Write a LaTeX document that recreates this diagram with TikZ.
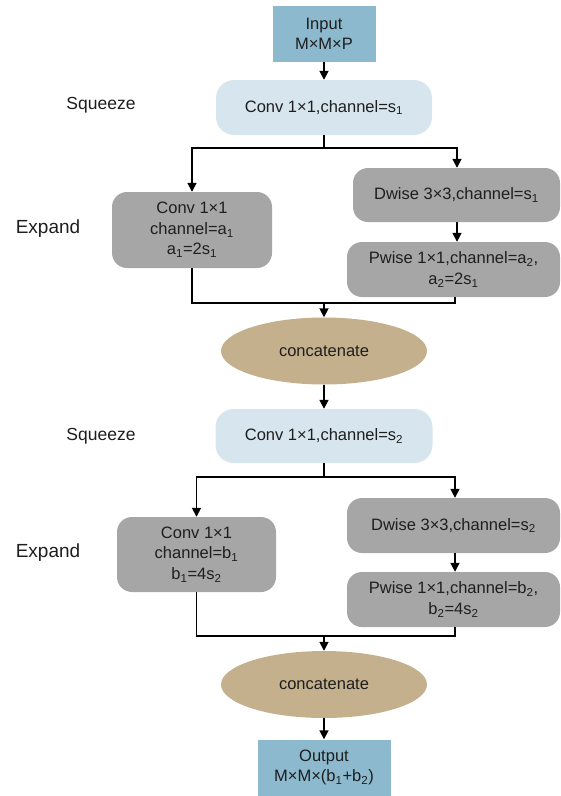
\documentclass[tikz,border=0pt]{standalone}
\usepackage{fontspec}
\setmainfont{Liberation Sans}
\usetikzlibrary{shapes.geometric,arrows.meta,calc}
\definecolor{inblue}{RGB}{140,185,205}
\definecolor{sqblue}{RGB}{215,230,238}
\definecolor{boxgray}{RGB}{166,166,166}
\definecolor{tan}{RGB}{196,176,140}
\definecolor{txt}{RGB}{30,30,30}
\newcommand{\sub}[1]{\textsubscript{#1}}
\begin{document}
\begin{tikzpicture}[x=1pt,y=-1pt,
  every node/.style={font=\fontsize{16.5}{20.5}\selectfont, text=txt, align=center, inner sep=0pt},
  iobox/.style={rectangle, fill=inblue, minimum width=#1, minimum height=56},
  sqbox/.style={rectangle, rounded corners=18, fill=sqblue, minimum width=#1, minimum height=55},
  gbox/.style={rectangle, rounded corners=15, fill=boxgray, minimum width=#1},
  catell/.style={ellipse, fill=tan, minimum width=206, minimum height=67},
  lab/.style={font=\fontsize{17.5}{20}\selectfont},
  biglab/.style={font=\fontsize{19}{22}\selectfont},
  conn/.style={line width=1.7pt, black},
  arr/.style={conn, -{Triangle[length=9pt,width=9pt]}}
]
\useasboundingbox (0,0) rectangle (561,796);

% labels
\node[lab] (lsq1) at (101,105) {Squeeze};
\node[biglab] (lex1) at (48,229) {Expand};
\node[lab] (lsq2) at (101,436) {Squeeze};
\node[biglab] (lex2) at (48,553) {Expand};

% nodes
\node[iobox=103] (in) at (324,34) {Input\\M×M×P};
\node[sqbox=216] (sq1) at (324,107.5) {Conv 1×1,channel=s\sub{1}};
\node[gbox=160, minimum height=76] (e1L) at (192,230) {Conv 1×1\\channel=a\sub{1}\\a\sub{1}=2s\sub{1}};
\node[gbox=207, minimum height=54] (e1D) at (456.5,195) {Dwise 3×3,channel=s\sub{1}};
\node[gbox=213, minimum height=55] (e1P) at (453.5,269.5) {Pwise 1×1,channel=a\sub{2},\\a\sub{2}=2s\sub{1}};
\node[catell] (cat1) at (324,351) {concatenate};
\node[sqbox=217, minimum height=54] (sq2) at (324,436) {Conv 1×1,channel=s\sub{2}};
\node[gbox=159, minimum height=75] (e2L) at (196.5,554.5) {Conv 1×1\\channel=b\sub{1}\\b\sub{1}=4s\sub{2}};
\node[gbox=213, minimum height=55] (e2D) at (453.5,525.5) {Dwise 3×3,channel=s\sub{2}};
\node[gbox=213, minimum height=55] (e2P) at (453.5,599.5) {Pwise 1×1,channel=b\sub{2},\\b\sub{2}=4s\sub{2}};
\node[catell] (cat2) at (324,684.5) {concatenate};
\node[iobox=133, minimum height=56] (out) at (324,767.5) {Output\\M×M×(b\sub{1}+b\sub{2})};

% junctions
\coordinate (j1) at (324,148);
\coordinate (m1) at (324,303);
\coordinate (j2) at (324,477);
\coordinate (m2) at (324,636);
\coordinate (r1) at (457,148);
\coordinate (r2) at (455,477);

% connectors block 1
\draw[arr] (in.south) -- (sq1.north);
\draw[conn] (sq1.south) -- (j1);
\draw[arr] (j1) -| (e1L.north);
\draw[arr] (j1) -- (r1) -- (r1 |- e1D.north);
\draw[arr] (r1 |- e1D.south) -- (r1 |- e1P.north);
\draw[conn] (e1L.south) |- (m1);
\draw[conn] ($(e1P.south)+(1.5,0)$) |- (m1);
\draw[arr] (m1) -- (cat1.north);
\draw[arr] (cat1.south) -- (sq2.north);

% connectors block 2
\draw[conn] (sq2.south) -- (j2);
\draw[arr] (j2) -| (e2L.north);
\draw[arr] (j2) -- (r2) -- (r2 |- e2D.north);
\draw[arr] (r2 |- e2D.south) -- (r2 |- e2P.north);
\draw[conn] (e2L.south) |- (m2);
\draw[conn] ($(e2P.south)+(1.5,0)$) |- (m2);
\draw[arr] (m2) -- (cat2.north);
\draw[arr] (cat2.south) -- (out.north);
\end{tikzpicture}
\end{document}
